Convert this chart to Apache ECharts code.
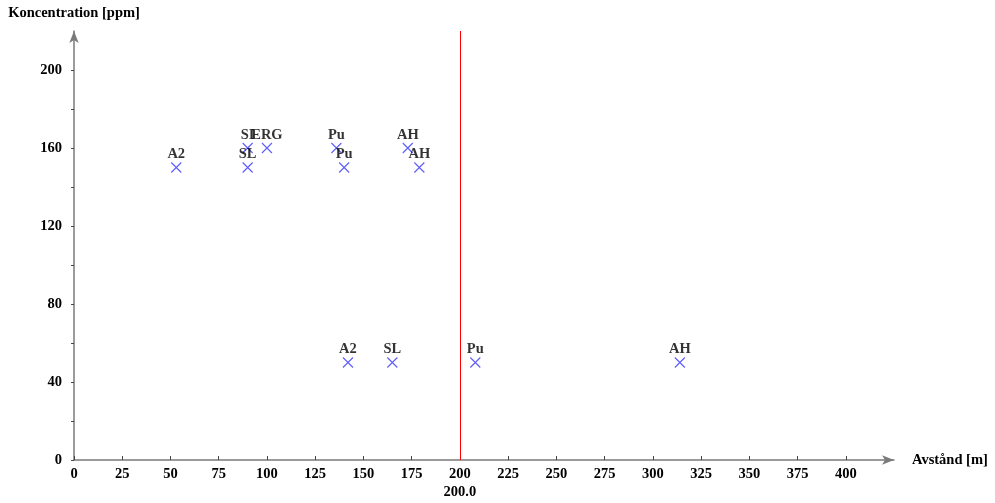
<!DOCTYPE html>
<html>
<head>
<meta charset="utf-8">
<script src="https://cdn.jsdelivr.net/npm/echarts@6/dist/echarts.min.js"></script>
<style>
  html, body { margin: 0; padding: 0; background: #fff; }
  #chart { width: 995px; height: 503px; }
</style>
</head>
<body>
<div id="chart"></div>
<script>
var distances = [53, 90, 90, 100, 136, 140, 173, 179, 142, 165, 208, 314];
var concentrations = [150, 150, 160, 160, 160, 150, 160, 150, 50, 50, 50, 50];
var pointNames = ['A2', 'SL', 'SI', 'ERG', 'Pu', 'Pu', 'AH', 'AH', 'A2', 'SL', 'Pu', 'AH'];
var xTicks = [0, 25, 50, 75, 100, 125, 150, 175, 200, 225, 250, 275, 300, 325, 350, 375, 400];
var yTicks = [0, 20, 40, 60, 80, 100, 120, 140, 160, 180, 200];
var yLabels = [0, 40, 80, 120, 160, 200];
var limitValue = 200;

var font = 'Liberation Serif';
var axisGray = '#7a7a7a';

var points = distances.map(function (d, i) {
  return { value: [d, concentrations[i]], name: pointNames[i] };
});

var option = {
  animation: false,
  backgroundColor: '#fff',
  grid: { left: 74, right: 101, top: 31, bottom: 43 },
  xAxis: {
    type: 'value',
    min: 0,
    max: 425,
    name: 'Avstånd [m]',
    nameLocation: 'end',
    nameGap: 18,
    nameTextStyle: { fontFamily: font, fontSize: 14.5, fontWeight: 'bold', color: '#000' },
    axisLine: { lineStyle: { color: axisGray, width: 1.5 }, symbol: ['none', 'arrow'], symbolSize: [7, 12] },
    axisTick: { show: true, length: 4, inside: true, customValues: xTicks, lineStyle: { color: '#444' } },
    axisLabel: { customValues: xTicks, fontFamily: font, fontSize: 14.5, fontWeight: 'bold', color: '#000', margin: 7 },
    splitLine: { show: false }
  },
  yAxis: {
    type: 'value',
    min: 0,
    max: 220,
    name: 'Koncentration [ppm]',
    nameLocation: 'end',
    nameGap: 10,
    nameTextStyle: { fontFamily: font, fontSize: 14.5, fontWeight: 'bold', color: '#000' },
    axisLine: { lineStyle: { color: axisGray, width: 1.5 }, symbol: ['none', 'arrow'], symbolSize: [7, 12] },
    axisTick: { show: true, length: 3, customValues: yTicks, lineStyle: { color: '#444' } },
    axisLabel: { customValues: yLabels, fontFamily: font, fontSize: 14.5, fontWeight: 'bold', color: '#000', margin: 12 },
    splitLine: { show: false }
  },
  series: [{
    type: 'scatter',
    data: points,
    symbol: 'path://M0,0L10,10M10,0L0,10',
    symbolSize: 10,
    itemStyle: { color: 'none', borderColor: '#3333ff', borderWidth: 1.1 },
    label: {
      show: true,
      position: 'top',
      distance: -2,
      formatter: '{b}',
      fontFamily: font,
      fontSize: 14.5,
      fontWeight: 'bold',
      color: '#000'
    },
    markLine: {
      silent: true,
      symbol: ['none', 'none'],
      lineStyle: { color: '#ff0000', width: 1, type: 'solid' },
      label: {
        show: true,
        position: 'start',
        distance: 25,
        formatter: limitValue.toFixed(1),
        fontFamily: font,
        fontSize: 14.5,
        fontWeight: 'bold',
        color: '#000'
      },
      data: [{ xAxis: limitValue }]
    }
  }]
};

var chart = echarts.init(document.getElementById('chart'));
chart.setOption(option);
</script>
</body>
</html>
